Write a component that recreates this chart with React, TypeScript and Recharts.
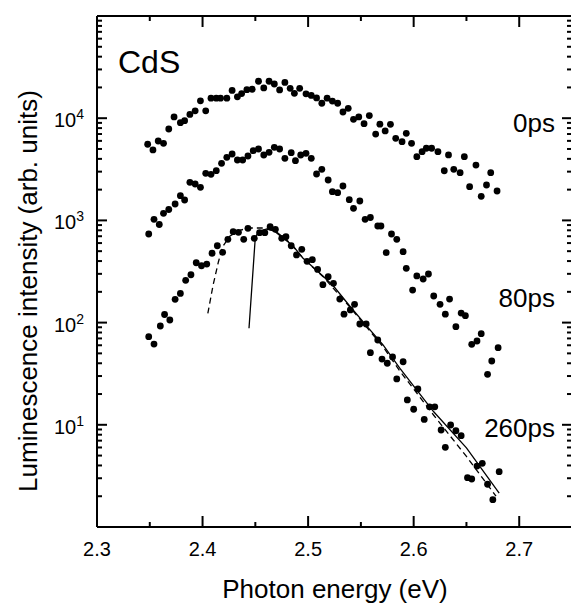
import { ComposedChart, Scatter, XAxis, YAxis } from 'recharts'

const FONT = '"Liberation Sans", Arial, Helvetica, sans-serif'

// photon energy (eV) and luminescence intensity (arb. units)
const energy0 = [2.348, 2.353, 2.358, 2.363, 2.368, 2.373, 2.379, 2.383, 2.388, 2.393, 2.398, 2.403, 2.408, 2.413, 2.417, 2.423, 2.428, 2.433, 2.437, 2.442, 2.447, 2.453, 2.458, 2.463, 2.468, 2.473, 2.478, 2.483, 2.487, 2.492, 2.498, 2.503, 2.508, 2.513, 2.518, 2.523, 2.528, 2.533, 2.538, 2.543, 2.548, 2.553, 2.558, 2.564, 2.568, 2.573, 2.578, 2.583, 2.589, 2.593, 2.598, 2.603, 2.608, 2.612, 2.617, 2.623, 2.629, 2.633, 2.638, 2.644, 2.648, 2.653, 2.659, 2.664, 2.669, 2.673, 2.679]
const intensity0 = [5560, 4890, 5980, 5680, 7840, 10300, 9040, 9450, 10900, 11800, 14800, 11800, 15700, 15700, 15700, 15700, 18700, 16200, 17400, 19000, 19200, 23000, 19800, 23000, 21600, 18900, 22400, 19600, 17500, 19600, 17300, 16700, 15800, 14000, 15700, 14700, 14000, 11500, 12500, 9750, 10300, 8840, 10600, 7000, 8740, 7500, 8720, 6360, 5890, 7120, 5680, 4200, 4700, 5080, 5080, 4700, 3060, 4370, 3160, 2930, 4200, 2140, 3480, 1720, 2220, 2930, 1940]

const energy80 = [2.349, 2.354, 2.359, 2.363, 2.368, 2.374, 2.379, 2.383, 2.388, 2.393, 2.398, 2.403, 2.408, 2.413, 2.418, 2.423, 2.428, 2.433, 2.438, 2.443, 2.448, 2.453, 2.458, 2.463, 2.468, 2.473, 2.478, 2.484, 2.488, 2.493, 2.498, 2.503, 2.508, 2.513, 2.519, 2.523, 2.528, 2.533, 2.539, 2.543, 2.549, 2.554, 2.559, 2.566, 2.569, 2.574, 2.579, 2.584, 2.59, 2.593, 2.599, 2.603, 2.609, 2.614, 2.619, 2.625, 2.63, 2.634, 2.64, 2.645, 2.649, 2.655, 2.66, 2.664, 2.67, 2.674, 2.68]
const intensity80 = [736, 1025, 912, 1173, 1279, 1447, 1745, 1584, 2360, 2271, 2108, 2890, 2826, 3064, 3620, 4145, 4463, 3899, 3899, 4267, 4808, 4995, 4365, 4638, 5192, 4995, 4053, 4596, 3839, 4365, 4536, 4053, 2844, 3162, 2485, 1909, 1866, 2171, 1595, 1313, 1548, 1025, 1067, 881, 881, 483, 736, 653, 494, 340, 208, 286, 267, 299, 182, 151, 121, 170, 91.2, 124, 117, 61.3, 66.1, 77.9, 31.2, 42.1, 56.8]

const energy260 = [2.349, 2.354, 2.36, 2.364, 2.369, 2.374, 2.379, 2.384, 2.389, 2.394, 2.399, 2.404, 2.409, 2.414, 2.419, 2.424, 2.429, 2.434, 2.439, 2.443, 2.449, 2.454, 2.459, 2.464, 2.469, 2.475, 2.479, 2.484, 2.489, 2.494, 2.499, 2.504, 2.509, 2.514, 2.519, 2.524, 2.53, 2.534, 2.54, 2.544, 2.549, 2.555, 2.559, 2.566, 2.57, 2.575, 2.58, 2.584, 2.59, 2.594, 2.6, 2.604, 2.61, 2.615, 2.62, 2.626, 2.63, 2.635, 2.64, 2.645, 2.651, 2.655, 2.66, 2.665, 2.67, 2.675, 2.681]
const intensity260 = [72.8, 61.7, 92.6, 120, 106, 169, 193, 259, 294, 385, 360, 374, 477, 565, 487, 653, 775, 765, 653, 837, 668, 758, 758, 868, 818, 668, 693, 565, 459, 521, 398, 413, 331, 235, 281, 242, 170, 121, 133, 151, 96.9, 96.9, 50.8, 67.6, 44.0, 40.0, 46.1, 28.1, 41.4, 17.5, 14.2, 22.4, 11.3, 15.0, 15.0, 8.89, 6.02, 9.95, 8.75, 7.82, 3.04, 2.95, 3.95, 4.2, 2.62, 1.85, 3.48]

// fitted curves drawn over the 260ps spectrum
const fitSolidE = [2.444, 2.45, 2.454, 2.461, 2.468, 2.476, 2.485, 2.495, 2.514, 2.524, 2.54, 2.556, 2.571, 2.587, 2.619, 2.65, 2.681]
const fitSolidI = [87.9, 688, 787, 824, 787, 673, 574, 429, 286, 228, 143, 91.2, 60.4, 35.6, 13.4, 5.94, 2.14]
const fitDashE = [2.405, 2.41, 2.415, 2.419, 2.426, 2.436, 2.445, 2.456, 2.469, 2.483, 2.495, 2.514, 2.54, 2.571, 2.587, 2.619, 2.65, 2.678]
const fitDashI = [123, 233, 392, 553, 704, 805, 843, 843, 787, 601, 429, 283, 140, 58, 33.5, 12.4, 4.9, 2.0]

const xTicks = [2.3, 2.35, 2.4, 2.45, 2.5, 2.55, 2.6, 2.65, 2.7]
const xLabelTicks = [2.3, 2.4, 2.5, 2.6, 2.7]
const yTicks = [
  2, 3, 4, 5, 6, 7, 8, 9, 10,
  20, 30, 40, 50, 60, 70, 80, 90, 100,
  200, 300, 400, 500, 600, 700, 800, 900, 1000,
  2000, 3000, 4000, 5000, 6000, 7000, 8000, 9000, 10000,
  20000, 30000, 40000, 50000, 60000, 70000, 80000, 90000,
]
const yLabelTicks = [10, 100, 1000, 10000, 100000]
const yLabelExp = ['1', '2', '3', '4', '5']

const toPoints = (xs: number[], ys: number[]) => xs.map((x, i) => ({ x, y: ys[i] }))
const data0 = toPoints(energy0, intensity0)
const data80 = toPoints(energy80, intensity80)
const data260 = toPoints(energy260, intensity260)
const fitSolid = toPoints(fitSolidE, fitSolidI)
const fitDash = toPoints(fitDashE, fitDashI)

const isXLabel = (v: number) => xLabelTicks.some((t) => Math.abs(t - v) < 1e-6)
const yIndex = (v: number) => yLabelTicks.findIndex((t) => Math.abs(t - v) < 1e-6)

const Dot = (p: any) => <circle cx={p.cx} cy={p.cy} r={3.4} fill="#000" />
const NoDot = () => <g />

// ticks point into the plot: long on decades / tenths, short in between
const YTickLeft = (p: any) => {
  const x = Number(p.x)
  const y = Number(p.y)
  const i = yIndex(p.payload.value)
  return (
    <g>
      <path d={`M${x},${y}h${i >= 0 ? 10 : 5}`} stroke="#000" strokeWidth={2} />
      {i >= 0 && (
        <text x={x - 13} y={y + 9} textAnchor="end" fontSize={20} fontFamily={FONT} fill="#000">
          10
          <tspan dy={-8} fontSize={14}>{yLabelExp[i]}</tspan>
        </text>
      )}
    </g>
  )
}

const YTickRight = (p: any) => {
  const x = Number(p.x)
  const y = Number(p.y)
  return (
    <g>
      <path d={`M${x},${y}h${yIndex(p.payload.value) >= 0 ? -10 : -5}`} stroke="#000" strokeWidth={2} />
    </g>
  )
}

const XTickBottom = (p: any) => {
  const x = Number(p.x)
  const y = Number(p.y)
  const major = isXLabel(p.payload.value)
  return (
    <g>
      <path d={`M${x},${y}v${major ? -11 : -5}`} stroke="#000" strokeWidth={2} />
      {major && (
        <text x={x} y={y + 29} textAnchor="middle" fontSize={20} fontFamily={FONT} fill="#000">
          {p.payload.value.toFixed(1)}
        </text>
      )}
    </g>
  )
}

const XTickTop = (p: any) => {
  const x = Number(p.x)
  const y = Number(p.y)
  return (
    <g>
      <path d={`M${x},${y}v${isXLabel(p.payload.value) ? 11 : 5}`} stroke="#000" strokeWidth={2} />
    </g>
  )
}

const axisLine = { stroke: '#000', strokeWidth: 2 }

export default function App() {
  return (
    <ComposedChart width={571} height={595} margin={{ top: 0, right: 0, bottom: 0, left: 0 }}>
      <XAxis xAxisId="b" type="number" dataKey="x" domain={[2.3, 2.75]} ticks={xTicks} interval={0} allowDataOverflow height={76} tickSize={0} tickMargin={0} tickLine={false} axisLine={axisLine} tick={(p: any) => <XTickBottom {...p} />} />
      <XAxis xAxisId="t" orientation="top" type="number" dataKey="x" domain={[2.3, 2.75]} ticks={xTicks} interval={0} allowDataOverflow height={8} tickSize={0} tickMargin={0} tickLine={false} axisLine={axisLine} tick={(p: any) => <XTickTop {...p} />} />
      <YAxis yAxisId="l" type="number" scale="log" domain={[1, 100000]} ticks={yTicks} interval={0} allowDataOverflow width={89} tickSize={0} tickMargin={0} tickLine={false} axisLine={axisLine} tick={(p: any) => <YTickLeft {...p} />} />
      <YAxis yAxisId="r" orientation="right" type="number" scale="log" domain={[1, 100000]} ticks={yTicks} interval={0} allowDataOverflow width={7} tickSize={0} tickMargin={0} tickLine={false} axisLine={axisLine} tick={(p: any) => <YTickRight {...p} />} />
      <Scatter xAxisId="b" yAxisId="l" data={fitDash} dataKey="y" shape={NoDot} line={{ stroke: '#000', strokeWidth: 1.3, strokeDasharray: '6 4' }} lineType="joint" isAnimationActive={false} />
      <Scatter xAxisId="b" yAxisId="l" data={fitSolid} dataKey="y" shape={NoDot} line={{ stroke: '#000', strokeWidth: 1.3 }} lineType="joint" isAnimationActive={false} />
      <Scatter xAxisId="t" yAxisId="r" data={data0} dataKey="y" shape={Dot} isAnimationActive={false} />
      <Scatter xAxisId="b" yAxisId="l" data={data80} dataKey="y" shape={Dot} isAnimationActive={false} />
      <Scatter xAxisId="b" yAxisId="l" data={data260} dataKey="y" shape={Dot} isAnimationActive={false} />
      <g fontFamily={FONT} fill="#000">
        <text x={110} y={65} fontSize={32}>CdS</text>
        <text x={547} y={124} fontSize={26} textAnchor="end">0ps</text>
        <text x={547} y={299} fontSize={26} textAnchor="end">80ps</text>
        <text x={547} y={429} fontSize={26} textAnchor="end">260ps</text>
        <text x={327} y={590} fontSize={26} textAnchor="middle">Photon energy (eV)</text>
        <text transform="translate(29,283) rotate(-90)" fontSize={26} textAnchor="middle">
          Luminescence intensity (arb. units)
        </text>
      </g>
    </ComposedChart>
  )
}
